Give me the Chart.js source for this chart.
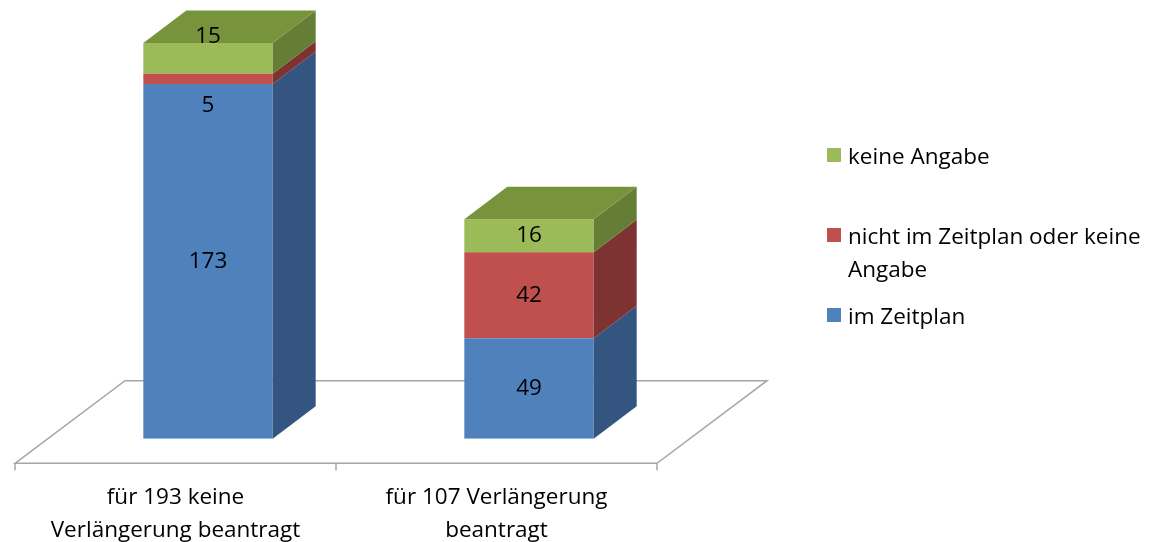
<!DOCTYPE html>
<html lang="de">
<head>
<meta charset="UTF-8">
<title>Verlängerung beantragt</title>
<script src="https://cdn.jsdelivr.net/npm/chart.js"></script>
<style>
  body { margin: 0; background: #fff; font-family: 'Open Sans', sans-serif; }
  #wrap { position: relative; width: 1153px; height: 542px; }
  #legend { position: absolute; left: 827px; top: 139px; width: 326px; }
  .item { display: flex; align-items: flex-start; height: 80px; }
  .box { width: 14px; height: 14px; margin-top: 9px; margin-right: 7px; flex: none; }
  .txt { font-size: 22.5px; line-height: 33px; color: #000; width: 304px; }
</style>
</head>
<body>
<div id="wrap">
  <canvas id="chart"></canvas>
  <div id="legend"></div>
</div>
<script>
const categories = [['für 193 keine', 'Verlängerung beantragt'], ['für 107 Verlängerung', 'beantragt']];
const seriesNames = ['im Zeitplan', 'nicht im Zeitplan oder keine Angabe', 'keine Angabe'];
const imZeitplan = [173, 49];
const nichtImZeitplan = [5, 42];
const keineAngabe = [15, 16];

const frontColors = ['#4f81bd', '#c0504d', '#9bbb59'];
const sideColors = ['#34557f', '#7e3231', '#647f35'];
const topColors = ['#3d6696', '#973c3a', '#77933c'];

// 3d look
const depth = { dx: 43, dy: 32.5 };
const floorGap = { dx: 32.5, dy: 24.6 };
const floorDepth = { dx: 110, dy: 82.6 };
const labelNudge = { '1,0': 27, '2,0': -22 };
const FONT = '22.5px "Open Sans"';

const box3d = {
  id: 'box3d',
  beforeDatasetsDraw(chart) {
    const { ctx, chartArea: a } = chart;
    const xs = chart.scales.x;
    const y0 = chart.scales.y.getPixelForValue(0);
    const fl = a.left - floorGap.dx, fr = a.right - floorGap.dx, fy = y0 + floorGap.dy;
    ctx.save();
    ctx.strokeStyle = '#a6a6a6';
    ctx.lineWidth = 1.5;
    ctx.beginPath();
    ctx.moveTo(fl, fy);
    ctx.lineTo(fl + floorDepth.dx, fy - floorDepth.dy);
    ctx.lineTo(fr + floorDepth.dx, fy - floorDepth.dy);
    ctx.lineTo(fr, fy);
    ctx.closePath();
    const n = categories.length;
    for (let i = 0; i <= n; i++) {
      const bx = xs.left + i * xs.width / n - floorGap.dx;
      ctx.moveTo(bx, fy);
      ctx.lineTo(bx, fy + 7);
    }
    ctx.stroke();

    // category labels under the floor
    ctx.fillStyle = '#000';
    ctx.font = FONT;
    ctx.textAlign = 'center';
    ctx.textBaseline = 'middle';
    categories.forEach((lines, i) => {
      const cx = xs.left + (i + 0.5) * xs.width / n - floorGap.dx;
      lines.forEach((t, k) => ctx.fillText(t, cx, fy + 34 + k * 33));
    });
    ctx.restore();
  },
  afterDatasetsDraw(chart) {
    const { ctx } = chart;
    const last = chart.data.datasets.length - 1;
    ctx.save();
    chart.data.datasets.forEach((ds, di) => {
      chart.getDatasetMeta(di).data.forEach((bar) => {
        const { x, y, base, width } = bar.getProps(['x', 'y', 'base', 'width'], true);
        const l = x - width / 2, r = x + width / 2;
        ctx.fillStyle = sideColors[di];
        ctx.beginPath();
        ctx.moveTo(r, y);
        ctx.lineTo(r + depth.dx, y - depth.dy);
        ctx.lineTo(r + depth.dx, base - depth.dy);
        ctx.lineTo(r, base);
        ctx.closePath();
        ctx.fill();
        if (di === last) {
          ctx.fillStyle = topColors[di];
          ctx.beginPath();
          ctx.moveTo(l, y);
          ctx.lineTo(l + depth.dx, y - depth.dy);
          ctx.lineTo(r + depth.dx, y - depth.dy);
          ctx.lineTo(r, y);
          ctx.closePath();
          ctx.fill();
        }
      });
    });
    // value labels
    ctx.fillStyle = '#000';
    ctx.font = FONT;
    ctx.textAlign = 'center';
    ctx.textBaseline = 'middle';
    chart.data.datasets.forEach((ds, di) => {
      chart.getDatasetMeta(di).data.forEach((bar, i) => {
        const { x, y, base } = bar.getProps(['x', 'y', 'base'], true);
        const nudge = labelNudge[di + ',' + i] || 0;
        ctx.fillText(String(ds.data[i]), x, (y + base) / 2 + nudge);
      });
    });
    ctx.restore();
  }
};

const values = [imZeitplan, nichtImZeitplan, keineAngabe];

new Chart(document.getElementById('chart'), {
  type: 'bar',
  data: {
    labels: categories,
    datasets: seriesNames.map((name, i) => ({
      label: name,
      data: values[i],
      backgroundColor: frontColors[i],
      borderWidth: 0,
      barPercentage: 0.403,
      categoryPercentage: 1
    }))
  },
  options: {
    responsive: true,
    maintainAspectRatio: false,
    animation: false,
    layout: { padding: { left: 47.5, right: 463.5, top: 0, bottom: 103.3 } },
    plugins: { legend: { display: false }, tooltip: { enabled: false } },
    scales: {
      x: { stacked: true, display: false },
      y: { stacked: true, display: false, min: 0, max: 214 }
    }
  },
  plugins: [box3d]
});

// legend, top series first like the original
const legendEl = document.getElementById('legend');
for (let i = seriesNames.length - 1; i >= 0; i--) {
  const item = document.createElement('div');
  item.className = 'item';
  item.innerHTML = `<span class="box" style="background:${frontColors[i]}"></span><span class="txt">${seriesNames[i]}</span>`;
  legendEl.appendChild(item);
}
</script>
</body>
</html>
